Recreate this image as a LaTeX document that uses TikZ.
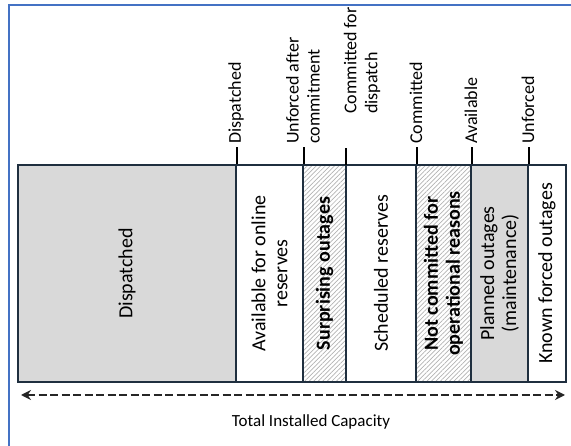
\documentclass[tikz,border=0pt]{standalone}
\usepackage{fontspec}
\setmainfont{Carlito}
\usetikzlibrary{arrows.meta,patterns.meta}
\definecolor{frameblue}{HTML}{4472C4}
\definecolor{boxline}{HTML}{1F2F3F}
\definecolor{lightfill}{HTML}{D9D9D9}
\definecolor{arrowgrey}{HTML}{262626}

\begin{document}
\begin{tikzpicture}[x=1pt,y=-1pt,
  col/.style={draw=boxline,line width=2.2pt,rotate=90,minimum width=217pt,inner sep=0pt,align=center,font=\fontsize{20}{22}\selectfont},
  grey col/.style={col,fill=lightfill},
  hatch col/.style={col,pattern={Lines[angle=45,distance=3.2pt,line width=0.7pt]},pattern color=gray!60,font=\fontsize{20}{22}\selectfont\bfseries},
  tick/.style={draw=black,line width=1.8pt},
  top label/.style={rotate=90,anchor=west,align=left,inner sep=2pt,font=\fontsize{18}{21}\selectfont},
  capacity/.style={draw=arrowgrey,line width=2.8pt,dash pattern=on 8pt off 3.5pt,{Stealth[length=10pt,width=10pt]}-{Stealth[length=10pt,width=10pt]}}]

  \useasboundingbox (0,0) rectangle (571,446);
  \draw[frameblue,line width=2pt] (9,446) -- (9,5) -- (571,5);

  % the capacity columns
  \node[grey col,minimum height=218pt] (disp) at (127,273.5) {Dispatched};
  \node[col,minimum height=67pt] (online) at (269.5,273.5) {Available for online\\reserves};
  \node[hatch col,minimum height=43pt] (surp) at (324.5,273.5) {Surprising outages};
  \node[col,minimum height=70pt] (sched) at (381,273.5) {Scheduled reserves};
  \node[hatch col,minimum height=55pt] (notcom) at (443.5,273.5) {Not committed for\\operational reasons};
  \node[grey col,minimum height=57pt] (plan) at (499.5,273.5) {Planned outages\\(maintenance)};
  \node[col,minimum height=38pt] (known) at (547,273.5) {Known forced outages};

  % ticks and their labels
  \draw[tick] (disp.south east) -- ++(0,-17);
  \draw[tick] (online.south east) -- ++(0,-17);
  \draw[tick] (surp.south east) -- ++(0,-17);
  \draw[tick] (sched.south east) -- ++(0,-17);
  \draw[tick] (notcom.south east) -- ++(0,-17);
  \draw[tick] (plan.south east) -- ++(0,-17);

  \node[top label] (lDisp) at (236,146) {Dispatched};
  \node[top label] (lUnfAfter) at (303,146) {Unforced after\\commitment};
  \node[top label] (lComDisp) at (362,116) {Committed for\\dispatch};
  \node[top label] (lCom) at (416,146) {Committed};
  \node[top label] (lAvail) at (471,146) {Available};
  \node[top label] (lUnf) at (528,146) {Unforced};

  % total capacity
  \coordinate (capL) at (21,395);
  \coordinate (capR) at (565,395);
  \draw[capacity] (capL) -- (capR);
  \node[font=\fontsize{17}{20}\selectfont] (total) at (311,422) {Total Installed Capacity};
\end{tikzpicture}
\end{document}
